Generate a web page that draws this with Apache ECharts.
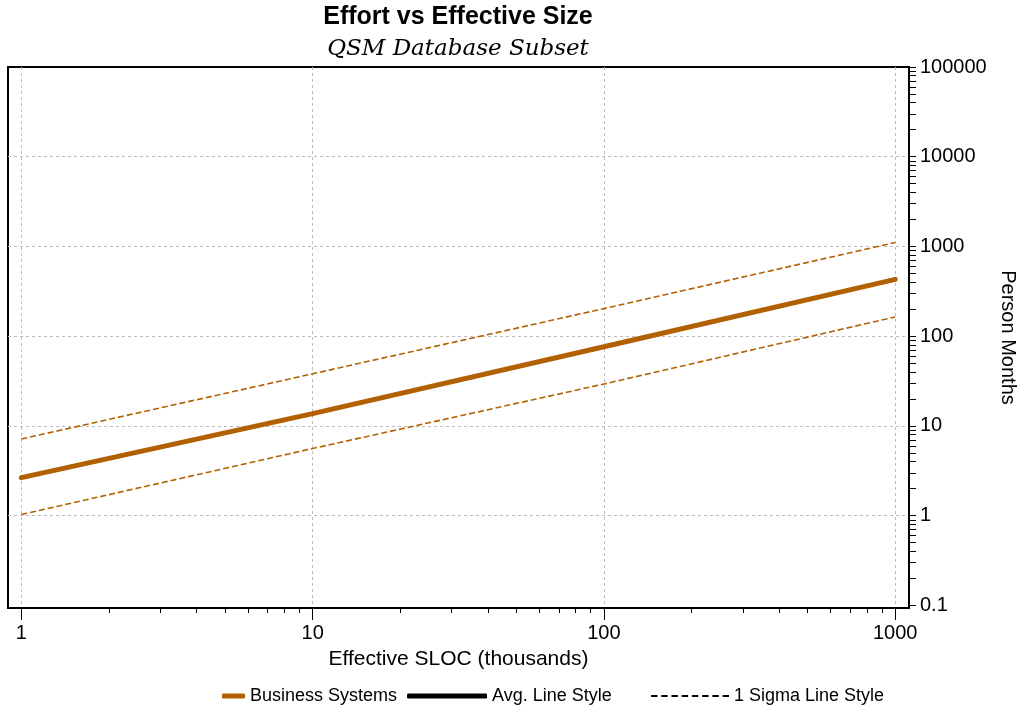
<!DOCTYPE html>
<html>
<head>
<meta charset="utf-8">
<script src="https://cdn.jsdelivr.net/npm/echarts@6/dist/echarts.min.js"></script>
<style>
  html, body { margin: 0; padding: 0; background: #fff; }
  #chart { width: 1023px; height: 713px; }
</style>
</head>
<body>
<div id="chart"></div>
<script>
// Effective size (thousands of SLOC) at which each curve is sampled
var sizes = [1, 10, 100, 1000];
// Average effort (person months) for business systems
var avgEffort = [2.65, 13.7, 76.3, 430];
// +1 sigma and -1 sigma effort bands
var upperSigma = [7.15, 38.1, 203, 1107];
var lowerSigma = [1.03, 5.6, 29.3, 164];

// Axis tick values
var xMajorTicks = [1, 10, 100, 1000];
var xMinorTicks = [2, 3, 4, 5, 6, 7, 8, 9, 20, 30, 40, 50, 60, 70, 80, 90,
                   200, 300, 400, 500, 600, 700, 800, 900];
var yMajorTicks = [0.1, 1, 10, 100, 1000, 10000, 100000];
var yGridLines = [1, 10, 100, 1000, 10000];
var yMinorTicks = [];
[0.1, 1, 10, 100, 1000, 10000].forEach(function (d) {
  for (var k = 2; k <= 9; k++) yMinorTicks.push(+(d * k).toPrecision(3));
});

var BROWN = '#B26000';
var FONT = 'Liberation Sans, Arial, sans-serif';
var GRID_LINE = { color: '#bdbdbd', width: 1, type: [3, 3] };

function pairs(xs, ys) {
  return xs.map(function (x, i) { return [x, ys[i]]; });
}
function plain(v) { return String(v); }

// eight short dashes, used as the legend key of the sigma style
var dashIcon = 'path://' + [0, 1, 2, 3, 4, 5, 6, 7].map(function (i) {
  var x = i * 9.5;
  return 'M' + x + ',0h6v2h-6z';
}).join(' ');

var X_MIN = 0.9, X_MAX = 1115, Y_MIN = 0.0935, Y_MAX = 100000;

var chart = echarts.init(document.getElementById('chart'), null, { renderer: 'canvas' });

var legendBase = {
  orient: 'horizontal',
  top: 687,
  padding: 0,
  symbolKeepAspect: false,
  textStyle: { fontFamily: FONT, fontSize: 18, color: '#000' },
  selectedMode: false
};

function hiddenLogAxis(extra) {
  return Object.assign({
    type: 'log', logBase: 10,
    axisLine: { show: false },
    axisLabel: { show: false },
    splitLine: { show: false }
  }, extra);
}

chart.setOption({
  animation: false,
  backgroundColor: '#fff',
  title: {
    text: 'Effort vs Effective Size',
    subtext: 'QSM Database Subset',
    left: 458,
    textAlign: 'center',
    top: 0,
    padding: [5, 0, 0, 0],
    itemGap: 8,
    textStyle: { fontFamily: FONT, fontWeight: 'bold', fontSize: 25, color: '#000' },
    subtextStyle: { fontFamily: 'DejaVu Serif', fontStyle: 'italic', fontSize: 23, color: '#000' }
  },
  legend: [
    Object.assign({}, legendBase, {
      left: 222, itemWidth: 23, itemHeight: 5,
      data: [{ name: 'Business Systems', icon: 'roundRect', itemStyle: { color: BROWN } }]
    }),
    Object.assign({}, legendBase, {
      left: 407, itemWidth: 80, itemHeight: 5,
      data: [{ name: 'Avg. Line Style', icon: 'roundRect', itemStyle: { color: '#000' } }]
    }),
    Object.assign({}, legendBase, {
      left: 651, itemWidth: 78, itemHeight: 2,
      data: [{ name: '1 Sigma Line Style', icon: dashIcon, itemStyle: { color: '#000' } }]
    })
  ],
  grid: {
    left: 8, right: 114, top: 67, bottom: 105,
    containLabel: false,
    outerBoundsMode: 'none',
    show: true,
    borderColor: '#000',
    borderWidth: 2,
    backgroundColor: 'transparent'
  },
  xAxis: [
    {
      type: 'log', logBase: 10, min: X_MIN, max: X_MAX,
      position: 'bottom',
      name: 'Effective SLOC (thousands)',
      nameLocation: 'middle',
      nameGap: 41,
      nameTextStyle: { fontFamily: FONT, fontSize: 21, color: '#000' },
      axisLine: { show: true, lineStyle: { color: '#000', width: 2 } },
      axisTick: { show: true, length: 12, customValues: xMajorTicks, lineStyle: { color: '#000', width: 1 } },
      axisLabel: { customValues: xMajorTicks, formatter: plain, margin: 15, fontFamily: FONT, fontSize: 20, color: '#000' },
      splitLine: { show: true, lineStyle: GRID_LINE },
      z: 3
    },
    hiddenLogAxis({
      min: X_MIN, max: X_MAX, position: 'bottom',
      axisTick: { show: true, length: 5, customValues: xMinorTicks, lineStyle: { color: '#000', width: 1 } }
    })
  ],
  yAxis: [
    {
      type: 'log', logBase: 10, min: Y_MIN, max: Y_MAX,
      position: 'right',
      name: 'Person Months',
      nameLocation: 'middle',
      nameRotate: -90,
      nameGap: 82,
      nameTextStyle: { fontFamily: FONT, fontSize: 20, color: '#000' },
      axisLine: { show: true, lineStyle: { color: '#000', width: 2 } },
      axisTick: { show: true, length: 7, customValues: yMajorTicks, lineStyle: { color: '#000', width: 1 } },
      axisLabel: { customValues: yMajorTicks, formatter: plain, margin: 11, fontFamily: FONT, fontSize: 20, color: '#000' },
      splitLine: { show: false },
      z: 3
    },
    hiddenLogAxis({
      min: Y_MIN, max: Y_MAX, position: 'right',
      axisTick: { show: true, length: 7, customValues: yMinorTicks, lineStyle: { color: '#000', width: 1 } }
    }),
    hiddenLogAxis({
      min: Y_MIN, max: Y_MAX, position: 'right',
      axisTick: { show: false, customValues: yGridLines },
      splitLine: { show: true, lineStyle: GRID_LINE }
    })
  ],
  series: [
    {
      name: '+1 Sigma', type: 'line', data: pairs(sizes, upperSigma),
      showSymbol: false, symbol: 'none', silent: true,
      lineStyle: { color: BROWN, width: 1.6, type: [6, 3] }, itemStyle: { color: BROWN }
    },
    {
      name: '-1 Sigma', type: 'line', data: pairs(sizes, lowerSigma),
      showSymbol: false, symbol: 'none', silent: true,
      lineStyle: { color: BROWN, width: 1.6, type: [6, 3] }, itemStyle: { color: BROWN }
    },
    {
      name: 'Business Systems', type: 'line', data: pairs(sizes, avgEffort),
      showSymbol: false, symbol: 'none', silent: true,
      lineStyle: { color: BROWN, width: 5, cap: 'round' }, itemStyle: { color: BROWN }
    },
    {
      name: 'Avg. Line Style', type: 'line', data: [],
      symbol: 'none',
      lineStyle: { color: '#000', width: 5 }, itemStyle: { color: '#000' }
    },
    {
      name: '1 Sigma Line Style', type: 'line', data: [],
      symbol: 'none',
      lineStyle: { color: '#000', width: 1.6, type: [6, 3] }, itemStyle: { color: '#000' }
    }
  ]
});
</script>
</body>
</html>
